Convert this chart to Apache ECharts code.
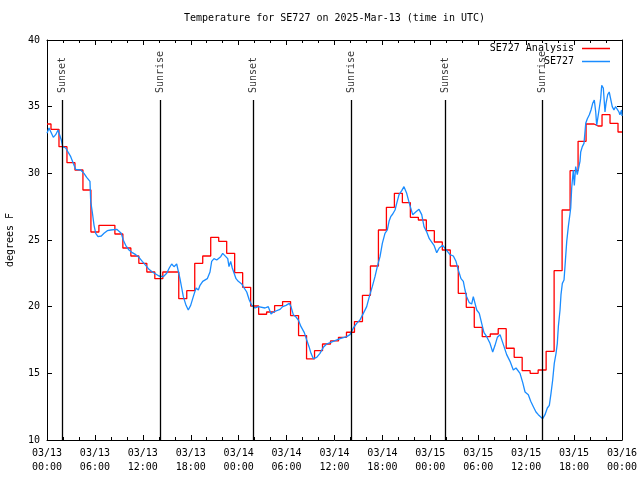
<!DOCTYPE html>
<html><head><meta charset="utf-8">
<script src="https://cdn.jsdelivr.net/npm/echarts@6/dist/echarts.min.js"></script>
<style>html,body{margin:0;padding:0;background:#fff}#c{width:640px;height:480px}</style>
</head><body><div id="c"></div>
<script>
// Hourly analysis temperatures (deg F), hour 0 .. 72 from 03/13 00:00 UTC
const analysisTemps = [
  33.7, 33.3, 32.0, 30.8, 30.25, 28.75, 25.6, 26.1, 26.1, 25.45,
  24.4, 23.8, 23.25, 22.6, 22.1, 22.6, 22.6, 20.6, 21.2, 23.25,
  23.8, 25.2, 24.9, 24.0, 22.55, 21.45, 20.05, 19.43, 19.6, 20.08,
  20.38, 19.33, 17.83, 16.08, 16.7, 17.2, 17.43, 17.7, 18.08, 18.88,
  20.85, 23.05, 25.75, 27.45, 28.5, 27.8, 26.7, 26.5, 25.7, 24.85,
  24.25, 23.05, 21.0, 19.95, 18.45, 17.75, 17.95, 18.35, 16.88, 16.2,
  15.2, 15.0, 15.25, 16.65, 22.7, 27.25, 30.2, 32.4, 33.7, 33.55,
  34.4, 33.75, 33.1
];
// Station observations: [hours since 03/13 00:00 UTC, deg F]
const stationObs = [
  [0,33.0],[0.25,33.4],[0.79,32.7],[1.09,32.9],[1.38,33.25],[1.79,32.5],[1.97,32.0],[2.34,31.9],
  [2.97,31.25],[3.29,30.75],[3.59,30.3],[4.22,30.25],[4.63,30.0],[4.97,29.7],[5.38,29.4],[5.47,27.9],
  [5.67,27.1],[5.89,26.1],[6.10,25.5],[6.39,25.25],[6.80,25.3],[7.14,25.5],[7.55,25.7],[7.98,25.75],
  [8.73,25.8],[9.30,25.5],[9.55,25.0],[9.85,24.6],[10.27,24.25],[10.68,24.05],[11.11,23.9],[11.52,23.7],
  [11.93,23.4],[12.36,23.1],[12.77,22.8],[13.19,22.6],[13.61,22.45],[14.02,22.3],[14.56,22.25],[14.99,22.5],
  [15.31,22.9],[15.61,23.2],[15.90,23.0],[16.24,23.2],[16.44,23.1],[16.65,22.1],[16.87,21.4],[17.07,20.75],
  [17.41,20.1],[17.69,19.75],[17.99,20.1],[18.32,20.75],[18.66,21.4],[18.95,21.25],[19.16,21.6],[19.50,21.9],
  [20.07,22.1],[20.41,22.6],[20.62,23.4],[20.91,23.6],[21.25,23.5],[21.75,23.75],[22.00,24.0],[22.16,24.05],
  [22.63,23.6],[22.79,23.0],[23.00,23.4],[23.20,22.9],[23.67,22.1],[23.95,21.9],[24.38,21.7],[24.58,21.5],
  [25.01,21.1],[25.33,20.5],[25.63,20.1],[26.05,19.9],[26.46,20.0],[27.30,19.9],[27.71,20.0],[28.05,19.45],
  [28.34,19.6],[29.18,19.8],[29.51,20.0],[29.93,20.1],[30.34,20.25],[30.55,20.0],[30.84,19.4],[31.14,19.25],
  [31.47,19.0],[31.81,18.5],[32.22,18.05],[32.52,17.5],[32.81,17.0],[33.06,16.5],[33.35,16.1],[33.77,16.2],
  [34.18,16.5],[34.60,16.95],[35.02,17.2],[35.44,17.3],[35.85,17.4],[36.69,17.6],[37.53,17.75],[37.94,17.9],
  [38.36,18.4],[38.78,18.75],[39.19,19.0],[39.61,19.5],[40.03,20.0],[40.36,20.75],[40.73,21.5],[41.07,22.25],
  [41.36,23.0],[41.70,23.75],[41.99,24.75],[42.32,25.5],[42.61,25.75],[42.83,26.4],[43.04,26.75],[43.29,26.95],
  [43.58,27.25],[43.79,27.75],[44.08,28.4],[44.42,28.7],[44.70,29.0],[45.04,28.5],[45.37,27.75],[45.79,26.9],
  [46.17,27.1],[46.58,27.3],[46.92,26.9],[47.21,26.0],[47.55,25.6],[47.87,25.1],[48.46,24.6],[48.80,24.05],
  [49.12,24.4],[49.55,24.6],[50.46,23.9],[50.88,23.8],[51.21,23.4],[51.50,22.75],[51.84,22.1],[52.13,21.9],
  [52.34,21.25],[52.55,20.75],[52.88,20.3],[53.18,20.2],[53.38,20.75],[53.81,19.75],[54.13,19.5],[54.43,18.75],
  [54.72,18.05],[55.06,17.75],[55.47,17.25],[55.81,16.6],[56.10,17.1],[56.39,17.7],[56.73,17.9],[57.23,17.0],
  [57.56,16.4],[57.98,15.9],[58.39,15.25],[58.73,15.4],[58.94,15.5],[59.23,15.0],[59.57,14.3],[59.86,13.6],
  [60.27,13.4],[60.57,12.9],[60.90,12.5],[61.23,12.1],[61.52,11.9],[62.07,11.6],[62.36,11.9],[62.65,12.4],
  [62.90,12.6],[63.11,13.5],[63.32,14.5],[63.52,15.75],[63.74,16.5],[63.90,17.25],[64.03,18.5],[64.24,19.75],
  [64.36,20.9],[64.53,21.75],[64.74,22.0],[64.86,23.0],[65.08,24.9],[65.28,26.0],[65.58,27.4],[65.70,28.9],
  [65.90,30.25],[66.03,29.1],[66.20,30.5],[66.40,29.9],[66.74,30.9],[66.83,31.6],[67.03,32.0],[67.24,32.25],
  [67.46,33.75],[67.66,34.1],[67.91,34.4],[68.12,34.75],[68.33,35.25],[68.53,35.5],[68.71,34.6],[68.83,33.6],
  [69.16,34.9],[69.33,35.6],[69.46,36.6],[69.66,36.4],[69.87,34.6],[70.00,35.25],[70.21,35.9],[70.40,36.1],
  [70.62,36.0],[70.78,35.0],[70.99,34.75],[71.20,35.0],[71.41,34.9],[71.62,34.6],[71.74,34.4],[71.95,34.75],
  [72,34.3]
];
// Sun events: label, hours since 03/13 00:00 UTC
const sunLabels = ['Sunset','Sunrise','Sunset','Sunrise','Sunset','Sunrise'];
const sunHours = [1.92, 14.17, 25.85, 38.12, 49.88, 62.03];
const sunLineTop = 35.5;
const startDay = 13;
const seriesNames = ['SE727 Analysis', 'SE727'];

const FONT = 'DejaVu Sans Mono';
const txt = {fontFamily: FONT, fontSize: 10, color: '#000'};
function xLabel(v) {
  const d = startDay + Math.floor(v / 24);
  const h = v % 24;
  return '03/' + String(d).padStart(2, '0') + '\n' + String(h).padStart(2, '0') + ':00';
}
const axisCommon = {
  axisLine: {show: true, onZero: false, lineStyle: {color: '#000', width: 1}},
  splitLine: {show: false}
};

const chart = echarts.init(document.getElementById('c'), null, {renderer: 'canvas'});
chart.setOption({
  animation: false,
  backgroundColor: '#fff',
  title: {
    text: 'Temperature for SE727 on 2025-Mar-13 (time in UTC)',
    left: 334.5, textAlign: 'center', top: 13, padding: 0,
    textStyle: Object.assign({fontWeight: 'normal'}, txt)
  },
  legend: [
    {data: [seriesNames[0]], right: 30, top: 43.5, align: 'right', orient: 'vertical', padding: 0,
     itemWidth: 28, itemHeight: 1.5, icon: 'rect', textStyle: Object.assign({padding: [0, 3, 0, 0]}, txt)},
    {data: [seriesNames[1]], right: 30, top: 56.5, align: 'right', orient: 'vertical', padding: 0,
     itemWidth: 28, itemHeight: 1.5, icon: 'rect', textStyle: Object.assign({padding: [0, 3, 0, 0]}, txt)}
  ],
  grid: {left: 47, right: 18, top: 40, bottom: 40, show: false, containLabel: false, outerBoundsMode: 'none'},
  xAxis: [
    Object.assign({type: 'value', min: 0, max: 72, interval: 6, position: 'bottom',
      axisTick: {show: true, inside: true, length: 5, lineStyle: {color: '#000'}},
      minorTick: {show: true, splitNumber: 3, length: 3, lineStyle: {color: '#000'}},
      axisLabel: Object.assign({formatter: xLabel, lineHeight: 14, margin: 6, showMinLabel: true, showMaxLabel: true}, txt)
    }, axisCommon),
    Object.assign({type: 'value', min: 0, max: 72, interval: 6, position: 'top',
      axisTick: {show: true, inside: true, length: 5, lineStyle: {color: '#000'}},
      minorTick: {show: true, splitNumber: 3, length: 3, lineStyle: {color: '#000'}},
      axisLabel: {show: false}
    }, axisCommon)
  ],
  yAxis: [
    Object.assign({type: 'value', min: 10, max: 40, interval: 5, position: 'left',
      name: 'degrees F', nameLocation: 'middle', nameGap: 32, nameTextStyle: txt,
      axisTick: {show: true, inside: true, length: 5, lineStyle: {color: '#000'}},
      axisLabel: Object.assign({margin: 7}, txt)
    }, axisCommon),
    Object.assign({type: 'value', min: 10, max: 40, interval: 5, position: 'right',
      axisTick: {show: true, inside: true, length: 5, lineStyle: {color: '#000'}},
      axisLabel: {show: false}
    }, axisCommon)
  ],
  series: [
    {
      name: 'sun', type: 'line', data: [], silent: true,
      markLine: {
        silent: true, symbol: 'none', animation: false,
        lineStyle: {color: '#000', width: 1.3, type: 'solid'},
        label: {show: false},
        data: sunHours.map(h => [{coord: [h, 10]}, {coord: [h, sunLineTop]}])
      }
    },
    {
      name: 'sunLabels', type: 'scatter', symbolSize: 0, silent: true,
      data: sunHours.map((h, i) => ({value: [h, sunLineTop], name: sunLabels[i]})),
      label: Object.assign({show: true, formatter: '{b}', position: 'top', distance: 7,
        rotate: 90, align: 'left', verticalAlign: 'middle'}, txt)
    },
    {
      name: seriesNames[0], type: 'line', step: 'middle', showSymbol: false,
      data: analysisTemps.map((v, i) => [i, v]),
      itemStyle: {color: '#ff0000'},
      lineStyle: {color: '#ff0000', width: 1.3}
    },
    {
      name: seriesNames[1], type: 'line', showSymbol: false,
      data: stationObs,
      itemStyle: {color: '#1a8cff'},
      lineStyle: {color: '#1a8cff', width: 1.3}
    }
  ]
});
</script></body></html>
